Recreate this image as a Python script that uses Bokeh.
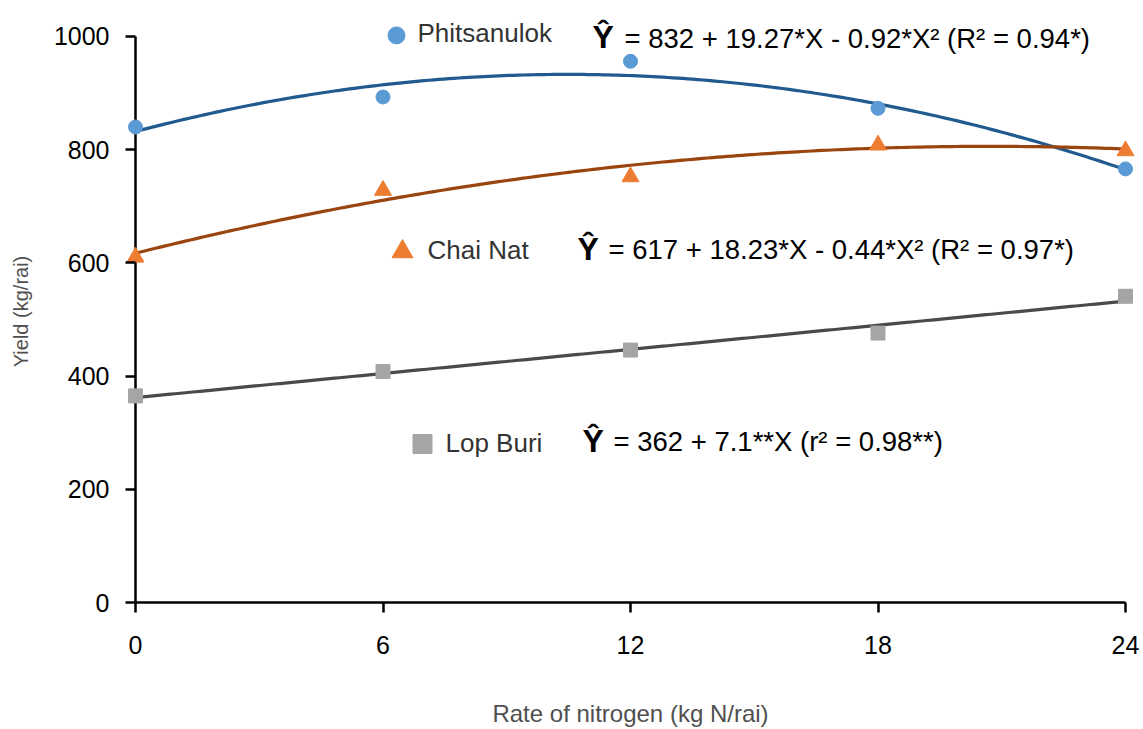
import numpy as np
from bokeh.plotting import figure
from bokeh.models import Range1d, FixedTicker
from bokeh.core.properties import value
from bokeh.embed import file_html
from bokeh.resources import INLINE

# ---- data ----
rates = [0, 6, 12, 18, 24]
phitsanulok = [840, 893, 956, 873, 766]
chai_nat = [610, 728, 752, 808, 798]
lop_buri = [365, 408, 446, 476, 541]

# regression coefficients shown on the chart (c0, c1, c2)
coef_phit = [832, 19.27, -0.92]
coef_chai = [617, 18.23, -0.44]
coef_lop = [362, 7.1, 0.0]

series_names = ["Phitsanulok", "Chai Nat", "Lop Buri"]
equations = ["= 832 + 19.27*X - 0.92*X\u00b2 (R\u00b2 = 0.94*)",
             "= 617 + 18.23*X - 0.44*X\u00b2 (R\u00b2 = 0.97*)",
             "= 362 + 7.1**X (r\u00b2 = 0.98**)"]
x_ticks = [0, 6, 12, 18, 24]
y_ticks = [0, 200, 400, 600, 800, 1000]

FONT = "Liberation Sans"

# frame geometry (pixels on canvas)
W, H = 1143, 729
FL, FR, FT, FB = 125, 1135, 10, 614
X0PX, X24PX = 135, 1125
Y0PX, Y1000PX = 604, 36
sx = (X24PX - X0PX) / 24.0
sy = (Y0PX - Y1000PX) / 1000.0
x_range = Range1d(-(X0PX - FL) / sx, 24 + (FR - X24PX) / sx)
y_range = Range1d(-(FB - Y0PX) / sy, (Y0PX - FT) / sy)

p = figure(width=W, height=H, output_backend="svg", toolbar_location=None,
           x_range=x_range, y_range=y_range,
           min_border_left=FL, min_border_right=W - FR,
           min_border_top=FT, min_border_bottom=H - FB)
p.outline_line_color = None
p.grid.visible = False
p.background_fill_color = "white"
p.border_fill_color = "white"

for ax in (p.xaxis, p.yaxis):
    ax.axis_line_color = None
    ax.major_tick_line_width = 2.5
    ax.major_tick_line_color = "black"
    ax.major_tick_in = 10
    ax.major_tick_out = 0
    ax.minor_tick_line_color = None
    ax.major_label_text_font = FONT
    ax.major_label_text_font_size = "25px"
    ax.major_label_text_color = "black"
    ax.axis_label_text_font = FONT
    ax.axis_label_text_font_style = "normal"
    ax.axis_label_text_color = "#505050"

p.xaxis.ticker = FixedTicker(ticks=x_ticks)
p.yaxis.ticker = FixedTicker(ticks=y_ticks)
p.xaxis.major_label_standoff = 23
p.yaxis.major_label_standoff = 16
p.xaxis.axis_label = "Rate of nitrogen (kg N/rai)"
p.yaxis.axis_label = "Yield (kg/rai)"
p.xaxis.axis_label_text_font_size = "24px"
p.yaxis.axis_label_text_font_size = "20px"
p.xaxis.axis_label_standoff = 43
p.yaxis.axis_label_standoff = 19

# axis lines through the origin
p.segment(x0=[0, 0], y0=[0, 0], x1=[0, max(x_ticks)], y1=[max(y_ticks), 0],
          line_color="black", line_width=2.5)

xs = np.linspace(0, 24, 200)
def curve(c):
    return c[0] + c[1] * xs + c[2] * xs ** 2

p.line(xs, curve(coef_phit), line_color="#215A8E", line_width=3.2)
p.line(xs, curve(coef_chai), line_color="#9A4510", line_width=3.2)
p.line(xs, curve(coef_lop), line_color="#4A4A4A", line_width=3.2)

p.scatter(rates, phitsanulok, marker="circle", size=14, fill_color="#5B9BD5", line_color="#5B9BD5")
p.scatter(rates, chai_nat, marker="triangle", size=17, fill_color="#ED7D31", line_color="#ED7D31")
p.scatter(rates, lop_buri, marker="square", size=14, fill_color="#A5A5A5", line_color="#A5A5A5")

# in-plot legend and equations (positions given in canvas pixels -> data)
def xd(px):
    return (px - X0PX) / sx
def yd(py):
    return (Y0PX - py) / sy

p.scatter([xd(396)], [yd(35)], marker="circle", size=17, fill_color="#5B9BD5", line_color="#5B9BD5")
p.scatter([xd(402)], [yd(252)], marker="triangle", size=21, fill_color="#ED7D31", line_color="#ED7D31")
p.scatter([xd(422)], [yd(445)], marker="square", size=19, fill_color="#A5A5A5", line_color="#A5A5A5")

name_x = [417, 427, 445]
name_base = [33, 250, 444]
hat_x = [592, 577, 582]
hat_base = [37, 249, 442]
eq_x = [624, 608, 613]
eq_base = [38, 250, 442]

p.text(x=[xd(v) for v in name_x], y=[yd(v) for v in name_base], text=series_names,
       text_font=value(FONT), text_font_size="26px", text_color="#333333",
       text_baseline="alphabetic", text_align="left")
p.text(x=[xd(v) for v in hat_x], y=[yd(v) for v in hat_base], text=["\u0176"] * 3,
       text_font=value(FONT), text_font_size="32px", text_font_style="bold",
       text_color="black", text_baseline="alphabetic", text_align="left")
p.text(x=[xd(v) for v in eq_x], y=[yd(v) for v in eq_base], text=equations,
       text_font=value(FONT), text_font_size="27.5px", text_color="black",
       text_baseline="alphabetic", text_align="left")

open("out.html", "w").write(file_html(p, INLINE))
